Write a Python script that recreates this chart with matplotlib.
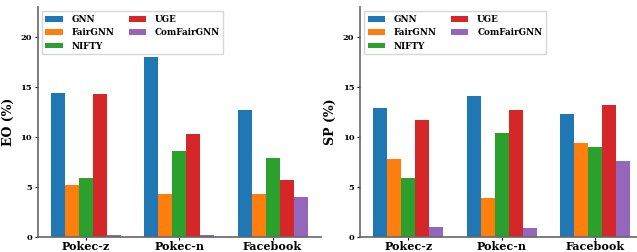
import numpy as np
import matplotlib.pyplot as plt

plt.rcParams['font.family'] = 'DejaVu Serif'
plt.rcParams['font.weight'] = 'bold'

datasets = ['Pokec-z', 'Pokec-n', 'Facebook']
methods = ['GNN', 'FairGNN', 'NIFTY', 'UGE', 'ComFairGNN']
colors = ['#1f77b4', '#ff7f0e', '#2ca02c', '#d62728', '#9467bd']

eo_gnn = [14.4, 18.0, 12.7]
eo_fairgnn = [5.2, 4.3, 4.3]
eo_nifty = [5.9, 8.6, 7.9]
eo_uge = [14.3, 10.3, 5.7]
eo_comfair = [0.15, 0.15, 4.0]

sp_gnn = [12.9, 14.1, 12.3]
sp_fairgnn = [7.8, 3.9, 9.4]
sp_nifty = [5.9, 10.4, 9.0]
sp_uge = [11.7, 12.7, 13.2]
sp_comfair = [1.0, 0.9, 7.6]

eo = [eo_gnn, eo_fairgnn, eo_nifty, eo_uge, eo_comfair]
sp = [sp_gnn, sp_fairgnn, sp_nifty, sp_uge, sp_comfair]

fig = plt.figure(figsize=(6.37, 2.52), dpi=100)
ax1 = fig.add_axes([0.059, 0.06, 0.445, 0.912])
ax2 = fig.add_axes([0.565, 0.06, 0.445, 0.912])

x = np.arange(len(datasets))
w = 0.15
for ax, vals, ylab in [(ax1, eo, 'EO (%)'), (ax2, sp, 'SP (%)')]:
    for i, (m, v) in enumerate(zip(methods, vals)):
        ax.bar(x + (i - 2) * w, v, w, label=m, color=colors[i])
    ax.set_xticks(x)
    ax.set_xticklabels(datasets, fontsize=8, fontweight='bold')
    ax.set_yticks([0, 5, 10, 15, 20])
    ax.tick_params(axis='y', labelsize=6, length=2, width=0.8, pad=2)
    ax.tick_params(axis='x', length=2, width=0.8, pad=1)
    ax.set_ylim(0, 23)
    ax.set_xlim(-0.52, 2.52)
    ax.set_ylabel(ylab, fontsize=9, fontweight='bold', labelpad=4)
    ax.spines['top'].set_visible(False)
    ax.spines['right'].set_visible(False)
    for s in ['left', 'bottom']:
        ax.spines[s].set_color('#666666')
        ax.spines[s].set_linewidth(1.2)
    ax.legend(ncol=2, loc='upper left', prop={'weight': 'bold', 'size': 6.3},
              handlelength=2.0, handleheight=0.6, columnspacing=1.6,
              borderaxespad=0.5, labelspacing=0.5, borderpad=0.4,
              handletextpad=1.0, edgecolor='#cccccc', fancybox=False)

fig.savefig('out.png', dpi=100)
